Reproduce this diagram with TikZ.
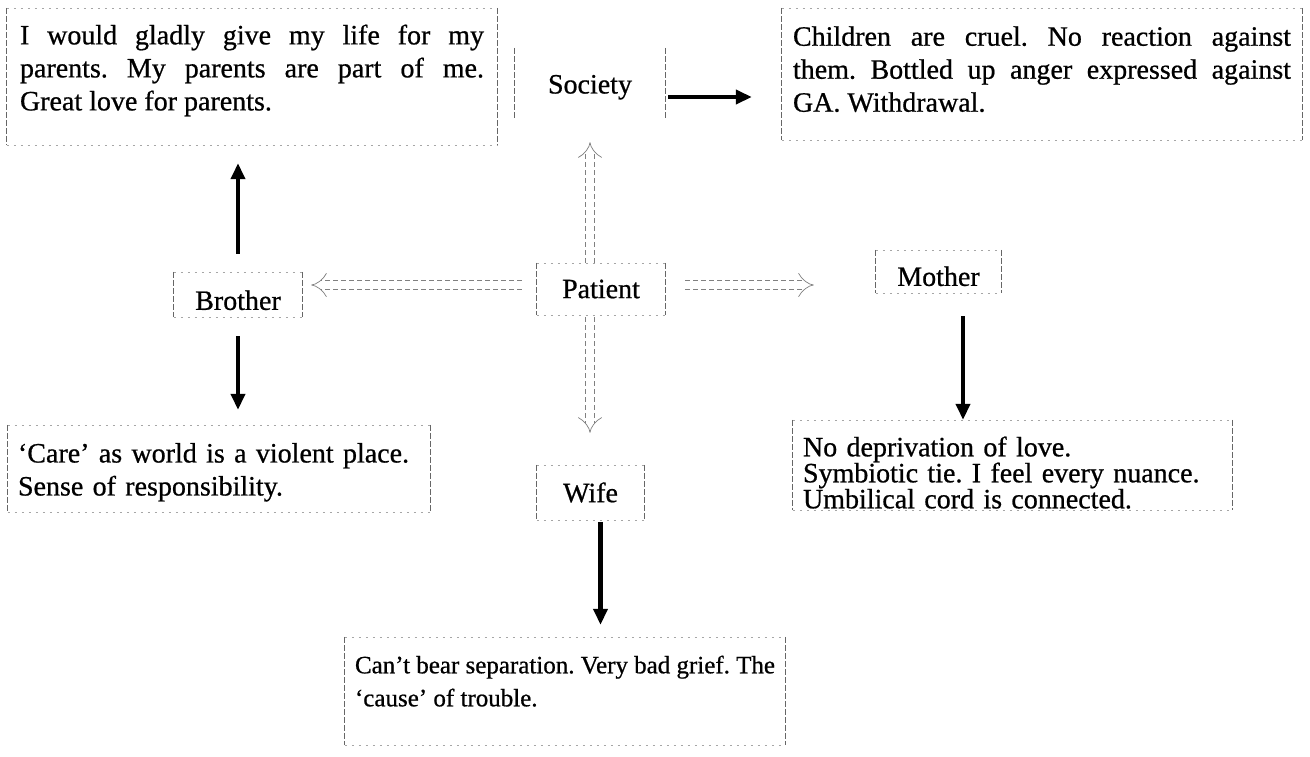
\documentclass[tikz,border=0pt]{standalone}
\usepackage{fontspec}
\setmainfont{Liberation Serif}[BoldFont={Liberation Serif},BoldFeatures={FakeBold=0.7}]
\usetikzlibrary{arrows.meta,calc}
\newcommand{\upby}[1]{\rule[-#1]{0pt}{0pt}}
\newcommand{\downby}[1]{\rule{0pt}{#1}}
\begin{document}
\frenchspacing
\begin{tikzpicture}[x=1pt,y=-1pt,
  every node/.style={font=\bfseries\fontsize{28}{33}\selectfont, inner sep=0pt, text=black},
  vside/.style={draw=black!60, line width=0.7pt, dash pattern=on 6pt off 2pt},
  hside/.style={draw=black!35, line width=0.6pt, dash pattern=on 2pt off 5pt},
  thickarrow/.style={draw=black, line width=4.5pt, -{Triangle[length=16pt,width=14pt]}},
  hollow/.style={draw=black!50, line width=0.7pt, double=white, double distance=8pt,
     dash pattern=on 5pt off 3pt, -{Implies}}
]
\fill[white] (0,0) rectangle (1310,756);
\useasboundingbox (0,0) rectangle (1310,756);

% boxes
\node[text width=464pt, minimum width=490, minimum height=137, align=justify] (parents) at (252,76.5)
  {I would gladly give my life for my\linebreak parents. My parents are part of me.\linebreak Great love for parents.\upby{18pt}};
\node[text width=498pt, minimum width=520, minimum height=132, align=justify] (children) at (1042,74)
  {Children are cruel. No reaction against\linebreak them. Bottled up anger expressed against\linebreak GA. Withdrawal.\upby{10pt}};
\node[minimum width=150, minimum height=70] (society) at (590,83) {\downby{27pt}Society\hspace{10pt}};
\node[minimum width=128, minimum height=52] (patient) at (601,289) {Patient};
\node[minimum width=128, minimum height=45] (brother) at (238,294.5) {\downby{31pt}Brother};
\node[minimum width=125, minimum height=43] (mother) at (938.5,271.5) {\downby{29pt}Mother};
\node[text width=402pt, minimum width=422, minimum height=87, align=left] (care) at (219,468.5)
  {\downby{27pt}`Care' as world is a violent place.\\ Sense of responsibility.};
\node[minimum width=107, minimum height=55] (wife) at (590.5,492.5) {Wife};
\node[text width=419pt, minimum width=439, minimum height=90, align=left,
      font=\bfseries\fontsize{28}{26}\selectfont] (mothertxt) at (1012.5,465)
  {\downby{35pt}No deprivation of love.\\ Symbiotic tie. I feel every nuance.\\ Umbilical cord is connected.};
\node[text width=420pt, minimum width=440, minimum height=108, align=justify,
      font=\bfseries\fontsize{25}{33}\selectfont] (cause) at (565,691)
  {Can't bear separation. Very bad grief. The\linebreak `cause' of trouble.\upby{20pt}};

% box borders
\foreach \n in {parents,children,patient,brother,mother,care,wife,mothertxt,cause}
  \draw[hside] (\n.north west) -- (\n.north east) (\n.south west) -- (\n.south east);
\foreach \n in {parents,children,society,patient,brother,mother,care,wife,mothertxt,cause}
  \draw[vside] (\n.north west) -- (\n.south west) (\n.north east) -- (\n.south east);

% solid arrows
\draw[thickarrow, shorten <=18pt, shorten >=18pt] (brother.north) -- (brother.north |- parents.south);
\draw[thickarrow, shorten <=19pt, shorten >=15pt] (brother.south) -- (brother.south |- care.north);
\draw[thickarrow, shorten <=3pt, shorten >=30pt] ([yshift=-14pt]society.east) -- ([yshift=-14pt]society.east -| children.west);
\draw[thickarrow, shorten <=23pt] ([xshift=24.5pt]mother.south) -- ([xshift=24.5pt]mother.south |- mothertxt.north);
\draw[thickarrow, shorten <=2pt, shorten >=12pt] ([xshift=10pt]wife.south) -- ([xshift=10pt]wife.south |- cause.north);

% hollow double arrows
\draw[hollow, shorten >=24pt] ([xshift=-11pt]patient.north) -- ([xshift=-11pt]patient.north |- society.south);
\draw[hollow, shorten <=2pt, shorten >=32pt] ([xshift=-11pt]patient.south) -- ([xshift=-11pt]patient.south |- wife.north);
\draw[hollow, shorten <=15pt, shorten >=9pt] ([yshift=4pt]patient.west) -- ([yshift=4pt]patient.west -| brother.east);
\draw[hollow, shorten <=20pt, shorten >=62pt] ([yshift=4pt]patient.east) -- ([yshift=4pt]patient.east -| mother.west);
\end{tikzpicture}
\end{document}
